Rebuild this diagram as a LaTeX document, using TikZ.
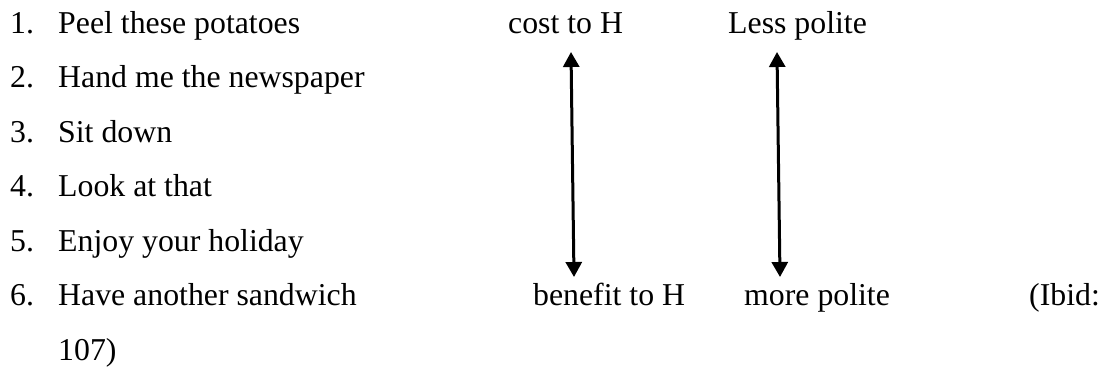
\documentclass[tikz,border=0pt]{standalone}
\usepackage{fontspec}
\setmainfont{Liberation Serif}
\usetikzlibrary{arrows.meta}
\begin{document}
\begin{tikzpicture}[x=1pt,y=1pt,
  txt/.style={anchor=base west,inner sep=0pt,font=\fontsize{31.8}{38}\selectfont},
  dbl/.style={{Triangle[width=16pt,length=15pt]}-{Triangle[width=16pt,length=15pt]},line width=3pt}]
\useasboundingbox (0,0) rectangle (1102,-372);
% numbered list
\foreach \n/\t [count=\i from 0] in {1/Peel these potatoes,2/Hand me the newspaper,3/Sit down,4/Look at that,5/Enjoy your holiday,6/Have another sandwich}{
  \node[txt] (num\n) at (10,{-33-54.5*\i}) {\n.};
  \node[txt] (item\n) at (58,{-33-54.5*\i}) {\t};
}
\node[txt] (pg) at (58,{-33-54.5*6}) {107)};
% scales
\node[txt] (cost) at (508,-33) {cost to H};
\node[txt] (less) at (728,-33) {Less polite};
\node[txt] (benefit) at (533,{-33-54.5*5}) {benefit to H};
\node[txt] (more) at (744,{-33-54.5*5}) {more polite};
\node[txt] (ibid) at (1029,{-33-54.5*5}) {(Ibid:};
\coordinate (a1t) at (571,-52);
\coordinate (a1b) at (574,-277);
\coordinate (a2t) at (777,-52);
\coordinate (a2b) at (780,-277);
\draw[dbl] (a1t) -- (a1b);
\draw[dbl] (a2t) -- (a2b);
\end{tikzpicture}
\end{document}
